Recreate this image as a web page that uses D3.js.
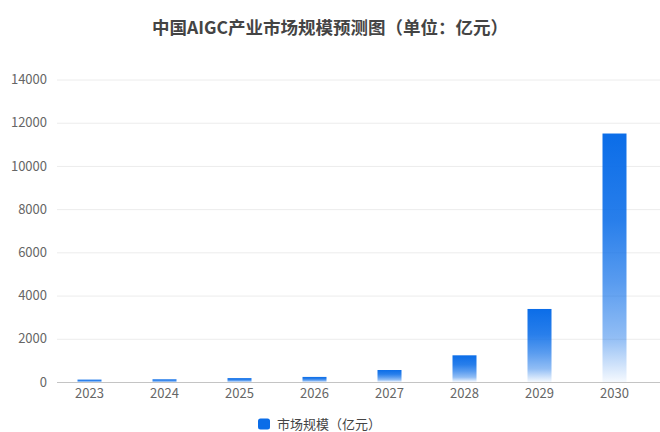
<!DOCTYPE html>
<html>
<head>
<meta charset="utf-8">
<script src="https://cdn.jsdelivr.net/npm/d3@7"></script>
<style>
  body { margin: 0; background: #fff; }
  svg { display: block; font-family: "Noto Sans CJK SC", "Noto Sans", sans-serif; }
</style>
</head>
<body>
<div id="wrapper"></div>
<script>
const years = ['2023', '2024', '2025', '2026', '2027', '2028', '2029', '2030'];
const marketSize = [110, 125, 180, 235, 555, 1235, 3380, 11500];
const yTicks = [0, 2000, 4000, 6000, 8000, 10000, 12000, 14000];
const title = '中国AIGC产业市场规模预测图（单位：亿元）';
const seriesName = '市场规模（亿元）';

function drawChart() {
  const width = 660;
  const height = 432;
  const plot = {left: 57, right: 660, top: 79.5, bottom: 382};
  const barColor = '#0b6de8';

  const svg = d3.select('#wrapper')
    .append('svg')
    .attr('width', width)
    .attr('height', height);

  // gradient, blue on top fading to nearly white at the bottom of each bar
  const grad = svg.append('defs')
    .append('linearGradient')
    .attr('id', 'barFill')
    .attr('x1', 0).attr('y1', 0)
    .attr('x2', 0).attr('y2', 1);
  [[0, 1], [0.35, 0.88], [0.6, 0.68], [0.82, 0.45], [1, 0.04]].forEach(([o, a]) => {
    grad.append('stop')
      .attr('offset', o)
      .attr('stop-color', barColor)
      .attr('stop-opacity', a);
  });

  // scales
  const x = d3.scaleBand()
    .domain(years)
    .range([52, 652]);

  const y = d3.scaleLinear()
    .domain([0, 14000])
    .range([plot.bottom, plot.top]);

  // title
  svg.append('text')
    .attr('x', width / 2)
    .attr('y', 34)
    .attr('text-anchor', 'middle')
    .attr('font-size', 17.5)
    .attr('font-weight', 'bold')
    .attr('fill', '#444')
    .text(title);

  // grid + y labels
  const yAxis = svg.append('g')
    .attr('transform', `translate(${plot.left},0)`)
    .call(d3.axisLeft(y)
      .tickValues(yTicks)
      .tickFormat(d3.format('d'))
      .tickSize(-(plot.right - plot.left))
      .tickPadding(10));
  yAxis.select('.domain').remove();
  yAxis.selectAll('.tick line').attr('stroke', '#ececec');
  yAxis.selectAll('.tick text')
    .attr('fill', '#666')
    .attr('font-size', 13)
    .attr('font-family', '"Noto Sans CJK SC", sans-serif');

  // bars
  svg.append('g')
    .selectAll('rect')
    .data(marketSize)
    .join('rect')
    .attr('x', (d, i) => x(years[i]) + x.bandwidth() / 2 - 12)
    .attr('width', 24)
    .attr('y', d => y(d))
    .attr('height', d => y(0) - y(d))
    .attr('fill', 'url(#barFill)');

  // x axis
  svg.append('line')
    .attr('x1', plot.left)
    .attr('x2', plot.right)
    .attr('y1', y(0) + 0.5)
    .attr('y2', y(0) + 0.5)
    .attr('stroke', '#c4c4c4')
    .attr('stroke-width', 1.2);

  const xAxis = svg.append('g')
    .attr('transform', `translate(0,${y(0)})`)
    .call(d3.axisBottom(x).tickSize(0).tickPadding(7));
  xAxis.select('.domain').remove();
  xAxis.selectAll('.tick text')
    .attr('fill', '#666')
    .attr('font-size', 13)
    .attr('font-family', '"Noto Sans CJK SC", sans-serif');

  // legend
  const legend = svg.append('g').attr('transform', 'translate(258,418.5)');
  legend.append('rect')
    .attr('width', 12)
    .attr('height', 11)
    .attr('rx', 2.5)
    .attr('fill', barColor);
  legend.append('text')
    .attr('x', 19)
    .attr('y', 5.5)
    .attr('dy', '0.35em')
    .attr('font-size', 13)
    .attr('fill', '#444')
    .text(seriesName);
}
drawChart();
</script>
</body>
</html>
